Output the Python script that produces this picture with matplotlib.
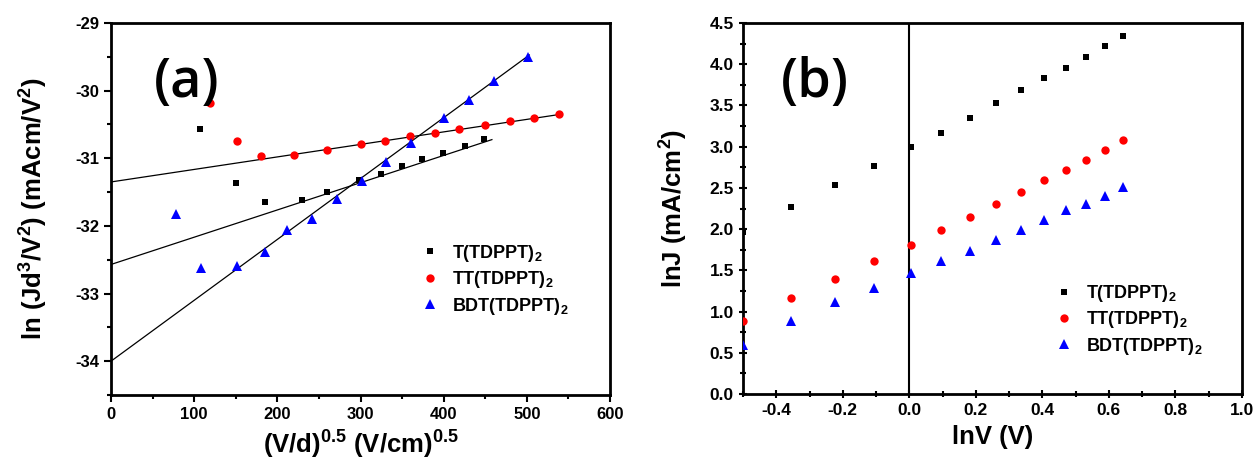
import numpy as np
import matplotlib
matplotlib.use("Agg")
import matplotlib.pyplot as plt
from matplotlib.ticker import MultipleLocator, FormatStrFormatter

plt.rcParams['font.family'] = ['Liberation Sans', 'DejaVu Sans']
plt.rcParams['font.weight'] = 'bold'
plt.rcParams['axes.unicode_minus'] = False
plt.rcParams['mathtext.fontset'] = 'custom'
plt.rcParams['mathtext.rm'] = 'Liberation Sans:bold'
plt.rcParams['mathtext.it'] = 'Liberation Sans:bold'
plt.rcParams['mathtext.bf'] = 'Liberation Sans:bold'

# ---------------- Panel (a) data ----------------
series_names = [r"T(TDPPT)$_2$", r"TT(TDPPT)$_2$", r"BDT(TDPPT)$_2$"]

a_T_x = [106.5, 150.8, 184.6, 229.4, 260.0, 297.8, 324.8, 349.4, 374.0, 399.5, 425.5, 449.0]
a_T_y = [-30.56, -31.37, -31.65, -31.62, -31.50, -31.32, -31.23, -31.12, -31.01, -30.92, -30.82, -30.72]

a_TT_x = [118.6, 151.8, 179.8, 219.8, 260.2, 300.2, 329.6, 359.5, 389.4, 418.3, 449.2, 479.5, 508.9, 538.3]
a_TT_y = [-30.19, -30.74, -30.97, -30.95, -30.88, -30.79, -30.74, -30.67, -30.63, -30.57, -30.51, -30.45, -30.40, -30.35]

a_BDT_x = [78.0, 108.4, 151.8, 184.6, 212.0, 241.4, 271.3, 302.2, 330.6, 360.5, 401.0, 430.8, 460.2, 501.2]
a_BDT_y = [-31.82, -32.62, -32.59, -32.38, -32.06, -31.90, -31.60, -31.33, -31.06, -30.78, -30.41, -30.14, -29.86, -29.50]

# linear fits: intercept, slope, x-range end
fit_intercepts = [-32.57, -31.35, -34.00]
fit_slopes = [0.00403, 0.00185, 0.00900]
fit_x_end = [458, 540, 503]

# ---------------- Panel (b) data ----------------
b_x = [-0.501, -0.357, -0.223, -0.105, 0.005, 0.095, 0.182, 0.262, 0.336, 0.405, 0.47, 0.531, 0.588, 0.642]
b_T_y = [1.97, 2.27, 2.53, 2.77, 2.99, 3.17, 3.35, 3.53, 3.69, 3.83, 3.96, 4.09, 4.22, 4.34]
b_TT_y = [0.89, 1.16, 1.39, 1.61, 1.81, 1.99, 2.15, 2.31, 2.45, 2.60, 2.72, 2.84, 2.96, 3.08]
b_BDT_y = [0.60, 0.89, 1.11, 1.29, 1.47, 1.61, 1.74, 1.87, 1.99, 2.115, 2.23, 2.31, 2.405, 2.51]

colors = ['black', 'red', 'blue']
markers = ['s', 'o', '^']
msizes = [5, 6, 7.5]

fig = plt.figure(figsize=(12.6, 4.7), dpi=100)
W, H = 1260, 470
axa = fig.add_axes([111 / W, 1 - 395 / H, 499 / W, 372 / H])
axb = fig.add_axes([743 / W, 1 - 394 / H, 499 / W, 371 / H])

# ---- draw (a)
a_xs = [a_T_x, a_TT_x, a_BDT_x]
a_ys = [a_T_y, a_TT_y, a_BDT_y]
for i in range(3):
    axa.plot(a_xs[i], a_ys[i], linestyle='none', marker=markers[i], color=colors[i],
             markersize=msizes[i], markeredgewidth=0, label=series_names[i], zorder=3)
for i in range(3):
    xx = np.array([0, fit_x_end[i]])
    axa.plot(xx, fit_intercepts[i] + fit_slopes[i] * xx, color='black', lw=0.9, zorder=2)

axa.set_xlim(0, 600)
axa.set_ylim(-34.5, -29)
axa.xaxis.set_major_locator(MultipleLocator(100))
axa.xaxis.set_minor_locator(MultipleLocator(50))
axa.yaxis.set_major_locator(MultipleLocator(1))
axa.yaxis.set_minor_locator(MultipleLocator(0.5))
axa.tick_params(which='both', direction='out', top=False, right=False, labelsize=12, width=1.5)
axa.tick_params(which='major', length=5)
axa.tick_params(which='minor', length=3)
axa.set_xlabel(r"(V/d)$^{0.5}$ (V/cm)$^{0.5}$", fontsize=18.5, fontweight='bold', labelpad=5)
axa.set_ylabel(r"ln (Jd$^3$/V$^2$) (mAcm/V$^2$)", fontsize=18.5, fontweight='bold', labelpad=18)
axa.text(0.085, 0.80, "(a)", transform=axa.transAxes, fontsize=39, family='Open Sans',
         fontweight='semibold')
axa.legend(loc='center left', bbox_to_anchor=(0.585, 0.31), frameon=False, fontsize=13,
           handletextpad=0.6, labelspacing=0.3, handlelength=1.2)

# ---- draw (b)
b_ys = [b_T_y, b_TT_y, b_BDT_y]
for i in range(3):
    axb.plot(b_x, b_ys[i], linestyle='none', marker=markers[i], color=colors[i],
             markersize=msizes[i], markeredgewidth=0, label=series_names[i], zorder=3)
axb.axvline(0, color='black', lw=1.5, zorder=2)
axb.set_xlim(-0.5, 1.0)
axb.set_ylim(0, 4.5)
axb.xaxis.set_major_locator(MultipleLocator(0.2))
axb.xaxis.set_minor_locator(MultipleLocator(0.1))
axb.yaxis.set_major_locator(MultipleLocator(0.5))
axb.yaxis.set_minor_locator(MultipleLocator(0.25))
axb.xaxis.set_major_formatter(FormatStrFormatter('%.1f'))
axb.yaxis.set_major_formatter(FormatStrFormatter('%.1f'))
axb.tick_params(which='both', direction='inout', top=False, right=False, labelsize=12.5, width=1.5)
axb.tick_params(which='major', length=6)
axb.tick_params(which='minor', length=4)
axb.set_xlabel("lnV (V)", fontsize=18.5, fontweight='bold', labelpad=5)
axb.set_ylabel(r"lnJ (mA/cm$^2$)", fontsize=18.5, fontweight='bold', labelpad=14)
axb.text(0.075, 0.80, "(b)", transform=axb.transAxes, fontsize=39, family='Open Sans',
         fontweight='semibold')
axb.legend(loc='center left', bbox_to_anchor=(0.59, 0.2), frameon=False, fontsize=13,
           handletextpad=0.6, labelspacing=0.3, handlelength=1.2)

for ax in (axa, axb):
    for s in ax.spines.values():
        s.set_linewidth(2)
    for lab in ax.get_xticklabels() + ax.get_yticklabels():
        lab.set_fontweight('bold')

fig.savefig("out.png", dpi=100)
